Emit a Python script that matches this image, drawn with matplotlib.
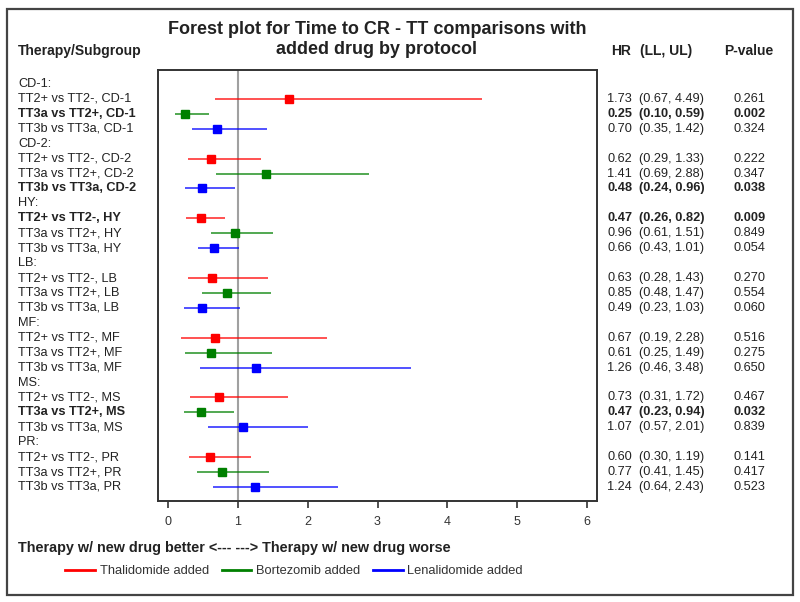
import matplotlib
matplotlib.use("Agg")
import matplotlib.pyplot as plt
from matplotlib.transforms import blended_transform_factory
from matplotlib.patches import Rectangle
from matplotlib.lines import Line2D

groups = ["CD-1", "CD-2", "HY", "LB", "MF", "MS", "PR"]
comparisons = ["TT2+ vs TT2-", "TT3a vs TT2+", "TT3b vs TT3a"]
drug_names = ["Thalidomide added", "Bortezomib added", "Lenalidomide added"]
drug_colors = ["#ff0000", "#008000", "#0000ff"]

hr = [1.73, 0.25, 0.70,
      0.62, 1.41, 0.48,
      0.47, 0.96, 0.66,
      0.63, 0.85, 0.49,
      0.67, 0.61, 1.26,
      0.73, 0.47, 1.07,
      0.60, 0.77, 1.24]
ll = [0.67, 0.10, 0.35,
      0.29, 0.69, 0.24,
      0.26, 0.61, 0.43,
      0.28, 0.48, 0.23,
      0.19, 0.25, 0.46,
      0.31, 0.23, 0.57,
      0.30, 0.41, 0.64]
ul = [4.49, 0.59, 1.42,
      1.33, 2.88, 0.96,
      0.82, 1.51, 1.01,
      1.43, 1.47, 1.03,
      2.28, 1.49, 3.48,
      1.72, 0.94, 2.01,
      1.19, 1.45, 2.43]
pval = ["0.261", "0.002", "0.324",
        "0.222", "0.347", "0.038",
        "0.009", "0.849", "0.054",
        "0.270", "0.554", "0.060",
        "0.516", "0.275", "0.650",
        "0.467", "0.032", "0.839",
        "0.141", "0.417", "0.523"]
bold_rows = [1, 5, 6, 16]  # significant comparisons (index into hr list)
x_ticks = [0, 1, 2, 3, 4, 5, 6]

FONT = ["Liberation Sans", "DejaVu Sans"]
TXT = "#222222"
plt.rcParams["font.family"] = FONT

W, H = 800, 602
fig = plt.figure(figsize=(W / 100, H / 100), dpi=100)
ax = fig.add_axes([158 / W, 1 - 501 / H, (597 - 158) / W, (501 - 70) / H])

tr = blended_transform_factory(fig.transFigure, ax.transData)

FS = 9.2
row = 0
k = 0
for g in groups:
    fig.text(18 / W, row, g + ":", transform=tr, va="center", ha="left",
             fontsize=FS, color=TXT)
    row += 1
    for j, c in enumerate(comparisons):
        b = "bold" if k in bold_rows else "normal"
        col = drug_colors[j]
        ax.plot([ll[k], ul[k]], [row, row], color=col, lw=1.2, alpha=0.8,
                solid_capstyle="butt", zorder=3)
        ax.plot([hr[k]], [row], marker="s", ms=6, color=col, mec=col,
                ls="none", zorder=4)
        fig.text(18 / W, row, f"{c}, {g}", transform=tr, va="center",
                 ha="left", fontsize=FS, color=TXT, fontweight=b)
        fig.text(607 / W, row, f"{hr[k]:.2f}", transform=tr, va="center",
                 ha="left", fontsize=FS, color=TXT, fontweight=b)
        fig.text(639 / W, row, f"({ll[k]:.2f}, {ul[k]:.2f})", transform=tr,
                 va="center", ha="left", fontsize=FS, color=TXT, fontweight=b)
        fig.text(733 / W, row, pval[k], transform=tr, va="center",
                 ha="left", fontsize=FS, color=TXT, fontweight=b)
        row += 1
        k += 1

ax.axvline(1, color="#a0a0a0", lw=1.5, zorder=1)
ax.set_xlim(-0.143, 6.143)
ax.set_ylim(row - 1 + 0.94, -0.94)
ax.set_xticks(x_ticks)
ax.set_xticklabels([str(t) for t in x_ticks])
ax.set_yticks([])
ax.tick_params(axis="x", direction="out", length=5, width=1.2, pad=6,
               labelsize=9, colors="#333333")
for s in ax.spines.values():
    s.set_linewidth(1.4)
    s.set_color("#333333")

# title and headers
fig.text(377 / W, 1 - 29 / H, "Forest plot for Time to CR - TT comparisons with",
         ha="center", va="center", fontsize=13, fontweight="bold", color=TXT)
fig.text(377 / W, 1 - 49 / H, "added drug by protocol",
         ha="center", va="center", fontsize=13, fontweight="bold", color=TXT)
hy = 1 - 51 / H
fig.text(18 / W, hy, "Therapy/Subgroup", ha="left", va="center", fontsize=10,
         fontweight="bold", color=TXT)
fig.text(611 / W, hy, "HR", ha="left", va="center", fontsize=10,
         fontweight="bold", color=TXT)
fig.text(640 / W, hy, "(LL, UL)", ha="left", va="center", fontsize=10,
         fontweight="bold", color=TXT)
fig.text(724 / W, hy, "P-value", ha="left", va="center", fontsize=10,
         fontweight="bold", color=TXT)

fig.text(18 / W, 1 - 548 / H,
         "Therapy w/ new drug better <--- ---> Therapy w/ new drug worse",
         ha="left", va="center", fontsize=10.4, fontweight="bold", color=TXT)

handles = [Line2D([], [], color=c, lw=2) for c in drug_colors]
leg = fig.legend(handles, drug_names, loc="center",
                 bbox_to_anchor=(294 / W, 1 - 571 / H), ncol=3, frameon=False,
                 fontsize=9.3, handlelength=2.3, handletextpad=0.35,
                 columnspacing=1.0)
for t in leg.get_texts():
    t.set_color("#333333")

fig.patches.append(Rectangle((7 / W, 1 - 595 / H), (793 - 7) / W,
                             (595 - 9) / H, transform=fig.transFigure,
                             fill=False, lw=1.6, ec="#444444"))

fig.savefig("out.png", dpi=100)
